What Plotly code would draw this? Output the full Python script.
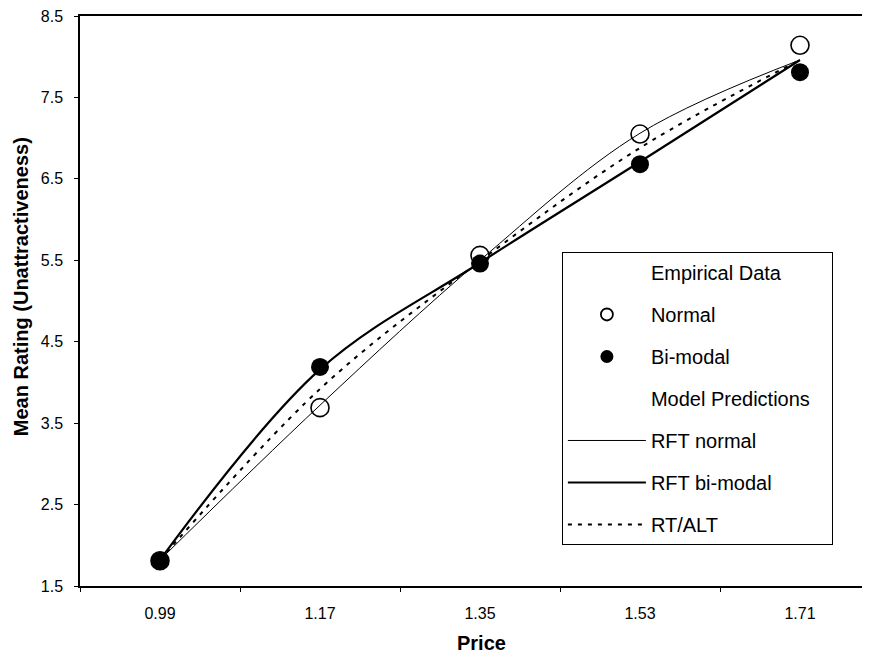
import plotly.graph_objects as go

prices = ["0.99", "1.17", "1.35", "1.53", "1.71"]
normal_emp = [1.81, 3.69, 5.56, 7.05, 8.14]
bimodal_emp = [1.81, 4.19, 5.46, 6.68, 7.81]
rft_normal = [1.82, 3.72, 5.50, 7.06, 7.96]
rft_bimodal = [1.82, 4.16, 5.47, 6.71, 7.96]
rt_alt = [1.82, 3.92, 5.49, 6.88, 7.96]
y_ticks = [1.5, 2.5, 3.5, 4.5, 5.5, 6.5, 7.5, 8.5]

FONT = "Liberation Sans, Arial, sans-serif"
fig = go.Figure()

# model lines (drawn first, under markers)
fig.add_trace(go.Scatter(x=prices, y=rft_normal, mode="lines", name="RFT normal",
                         legendgroup="g5", legendrank=5,
                         line=dict(color="black", width=1, shape="spline")))
fig.add_trace(go.Scatter(x=prices, y=rft_bimodal, mode="lines", name="RFT bi-modal",
                         legendgroup="g6", legendrank=6,
                         line=dict(color="black", width=2.2, shape="spline")))
fig.add_trace(go.Scatter(x=prices, y=rt_alt, mode="lines", name="RT/ALT",
                         legendgroup="g7", legendrank=7,
                         line=dict(color="black", width=2, dash="4px,6px", shape="spline")))

# empirical markers (plot)
fig.add_trace(go.Scatter(x=prices, y=normal_emp, mode="markers", name="Normal",
                         showlegend=False,
                         marker=dict(symbol="circle-open", size=18, color="black",
                                     line=dict(width=1.6, color="black"))))
fig.add_trace(go.Scatter(x=prices, y=bimodal_emp, mode="markers", name="Bi-modal",
                         showlegend=False,
                         marker=dict(symbol="circle", size=18, color="black")))

# legend entries
fig.add_trace(go.Scatter(x=[None], y=[None], mode="lines", name="Empirical Data",
                         line=dict(color="rgba(0,0,0,0)"), legendgroup="g1", legendrank=1))
fig.add_trace(go.Scatter(x=[None], y=[None], mode="markers", name="Normal",
                         legendgroup="g2", legendrank=2,
                         marker=dict(symbol="circle-open", size=12, color="black",
                                     line=dict(width=1.8, color="black"))))
fig.add_trace(go.Scatter(x=[None], y=[None], mode="markers", name="Bi-modal",
                         legendgroup="g3", legendrank=3,
                         marker=dict(symbol="circle", size=13, color="black")))
fig.add_trace(go.Scatter(x=[None], y=[None], mode="lines",
                         name="Model Predictions\u00a0\u00a0\u00a0",
                         line=dict(color="rgba(0,0,0,0)"), legendgroup="g4", legendrank=4))

# page body has an 8px margin: size the figure so the plot lands where the reference has it
fig.update_layout(
    width=862, height=648,
    margin=dict(l=72, r=0, t=8, b=70),
    paper_bgcolor="white", plot_bgcolor="white",
    font=dict(family=FONT, color="black", size=16),
    showlegend=True,
    legend=dict(
        traceorder="grouped",
        x=0.61, y=0.586, xanchor="left", yanchor="top",
        bordercolor="black", borderwidth=1, bgcolor="white",
        font=dict(size=20, family=FONT),
        itemwidth=78,
        tracegroupgap=13,
    ),
    xaxis=dict(
        type="category", categoryorder="array", categoryarray=prices,
        range=[-0.5, 4.4375], automargin=False,
        showline=True, linecolor="black", linewidth=1.5, mirror=True,
        ticks="outside", ticklen=4, tickcolor="black", tickson="boundaries",
        showgrid=False, zeroline=False,
        tickfont=dict(size=16), ticklabelstandoff=12, ticklabeloverflow="allow",
    ),
    yaxis=dict(
        range=[1.5, 8.5], tickvals=y_ticks, ticktext=[f"{v:.1f}" for v in y_ticks],
        automargin=False,
        showline=True, linecolor="black", linewidth=1.5, mirror=False,
        ticks="outside", ticklen=4, tickcolor="black",
        showgrid=False, zeroline=False,
        tickfont=dict(size=16), ticklabelstandoff=8, ticklabeloverflow="allow",
    ),
    annotations=[
        dict(text="<b>Price</b>", xref="paper", yref="paper", x=0.5076, y=-0.1,
             xanchor="center", yanchor="middle", showarrow=False, font=dict(size=20)),
        dict(text="<b>Mean Rating (Unattractiveness)</b>", xref="paper", yref="paper",
             x=-0.0747, y=0.526, xanchor="center", yanchor="middle", textangle=-90,
             showarrow=False, font=dict(size=20)),
    ],
)

fig.write_html("out.html")
